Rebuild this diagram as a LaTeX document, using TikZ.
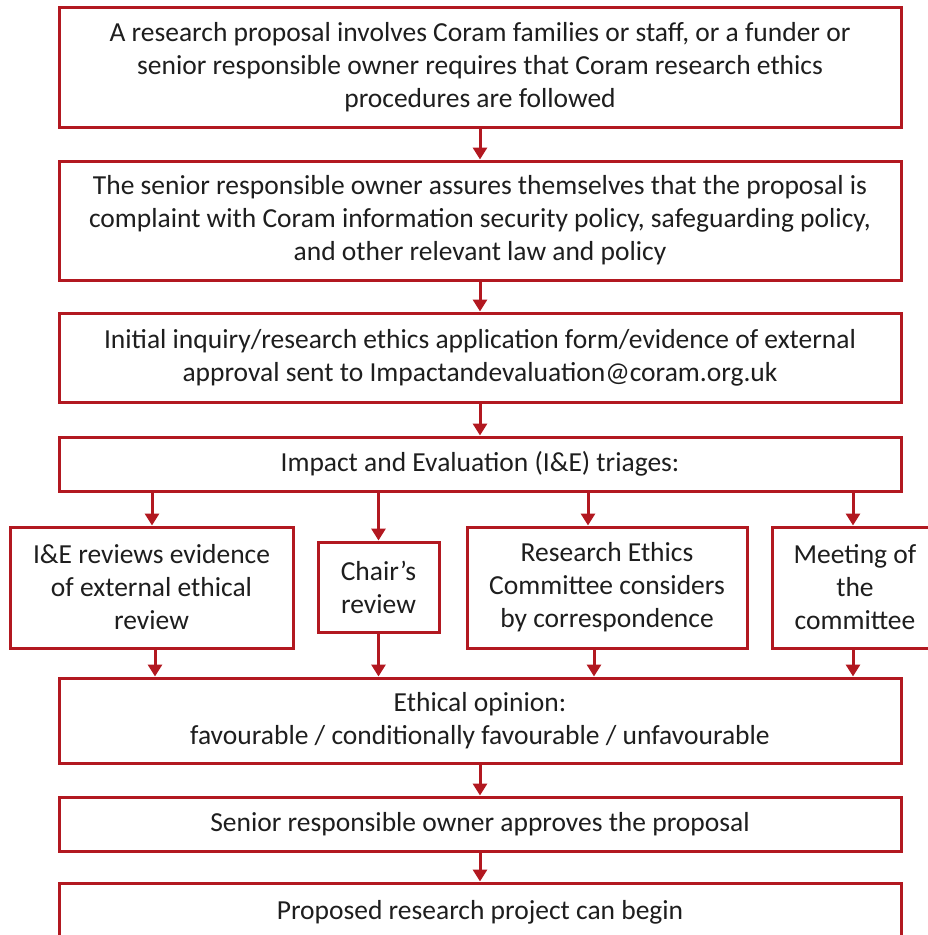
\documentclass[tikz,border=0pt]{standalone}
\usepackage{fontspec}
\setmainfont{Carlito}
\usetikzlibrary{arrows.meta}
\definecolor{cred}{RGB}{178,24,32}
\definecolor{ctext}{RGB}{30,30,30}
\begin{document}
\begin{tikzpicture}[x=1pt,y=-1pt,
  box/.style={draw=cred, line width=3pt, fill=white, align=center, inner sep=0pt,
    font=\fontsize{27.5}{33}\selectfont, text=ctext},
  arr/.style={draw=cred, line width=3pt, -{Triangle[width=14pt,length=12pt]}}]
\useasboundingbox (0,0) rectangle (928,935);
\clip (0,0) rectangle (928,935);
\node[box, minimum width=842pt, minimum height=120pt] (b1) at (480,67)
  {A research proposal involves Coram families or staff, or a funder or\\
   senior responsible owner requires that Coram research ethics\\
   procedures are followed};
\node[box, minimum width=842pt, minimum height=119pt] (b2) at (480,220.5)
  {The senior responsible owner assures themselves that the proposal is\\
   complaint with Coram information security policy, safeguarding policy,\\
   and other relevant law and policy};
\node[box, minimum width=842pt, minimum height=89pt] (b3) at (480,357.5)
  {Initial inquiry/research ethics application form/evidence of external\\
   approval sent to Impactandevaluation@coram.org.uk};
\node[box, minimum width=842pt, minimum height=54pt] (tri) at (480,464)
  {Impact and Evaluation (I\&E) triages:};
\node[box, minimum width=283pt, minimum height=121pt] (sa) at (151.5,587.5)
  {I\&E reviews evidence\\ of external ethical\\ review};
\node[box, minimum width=121pt, minimum height=90pt] (sb) at (378.5,587)
  {Chair’s\\ review};
\node[box, minimum width=280pt, minimum height=121pt] (sc) at (607,587.5)
  {Research Ethics\\ Committee considers\\ by correspondence};
\node[box, minimum width=166pt, minimum height=121pt] (sd) at (855,587.5)
  {Meeting of\\ the\\ committee};
\node[box, minimum width=842pt, minimum height=85pt] (eo) at (480,720.5)
  {Ethical opinion:\\ favourable / conditionally favourable / unfavourable};
\node[box, minimum width=842pt, minimum height=54pt] (sr) at (480,824)
  {Senior responsible owner approves the proposal};
\node[box, minimum width=842pt, minimum height=58pt] (pr) at (480,912)
  {Proposed research project can begin};
\draw[arr] (b1.south) -- (b2.north);
\draw[arr] (b2.south) -- (b3.north);
\draw[arr] (b3.south) -- (tri.north);
\coordinate (saT) at ([xshift=0.5pt]sa.north);
\coordinate (scT) at ([xshift=-19pt]sc.north);
\coordinate (sdT) at ([xshift=-2pt]sd.north);
\draw[arr] (tri.south -| saT) -- (saT);
\draw[arr] (tri.south -| sb.north) -- (sb.north);
\draw[arr] (tri.south -| scT) -- (scT);
\draw[arr] (tri.south -| sdT) -- (sdT);
\coordinate (saB) at ([xshift=3.5pt]sa.south);
\coordinate (scB) at ([xshift=-13pt]sc.south);
\coordinate (sdB) at ([xshift=-2pt]sd.south);
\draw[arr] (saB) -- (eo.north -| saB);
\draw[arr] (sb.south) -- (eo.north -| sb.south);
\draw[arr] (scB) -- (eo.north -| scB);
\draw[arr] (sdB) -- (eo.north -| sdB);
\draw[arr] (eo.south) -- (sr.north);
\draw[arr] (sr.south) -- (pr.north);
\end{tikzpicture}
\end{document}
